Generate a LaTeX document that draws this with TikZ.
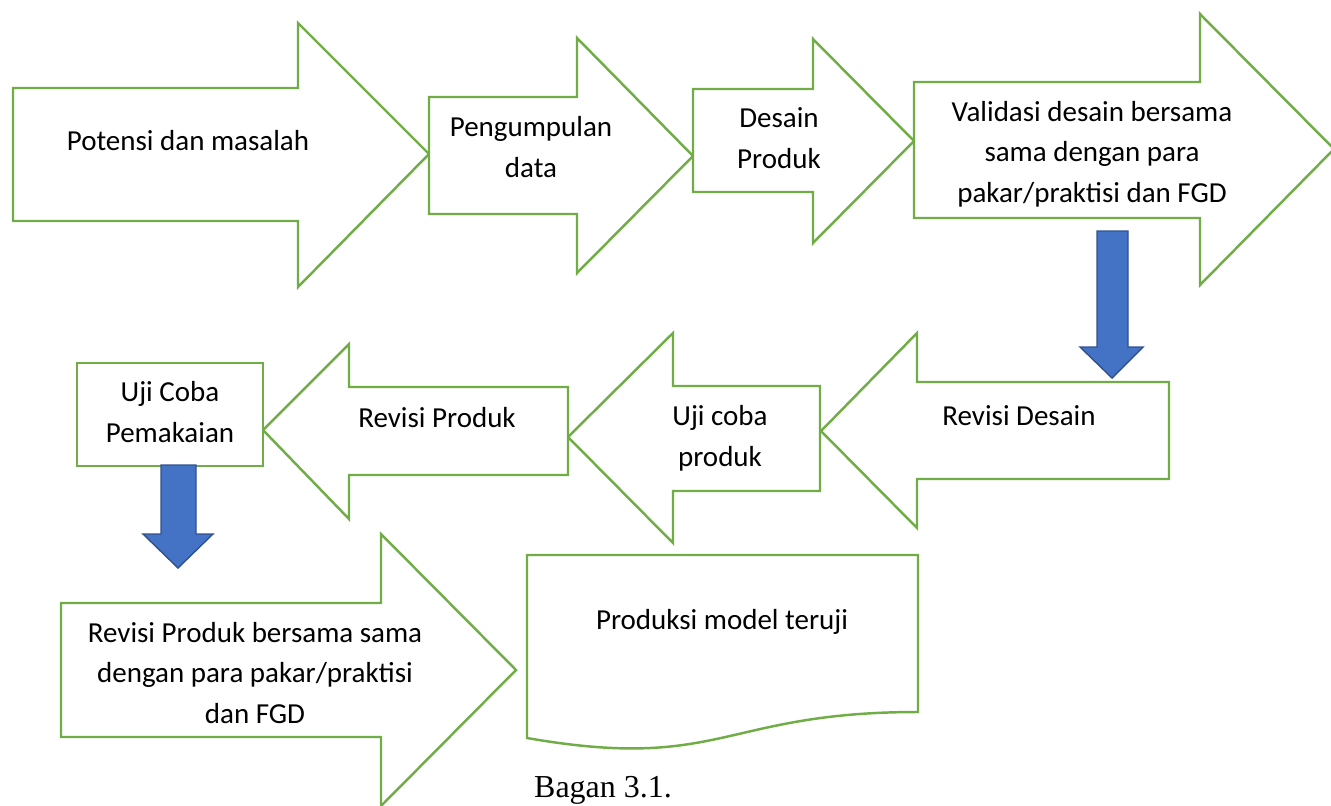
\documentclass[tikz,border=0pt]{standalone}
\usepackage{fontspec}
\setmainfont{Carlito}
\newfontfamily\captionfont{Liberation Serif}
\usepackage{xcolor}
\definecolor{office-green}{HTML}{70AD47}
\definecolor{office-blue}{HTML}{4472C4}
\definecolor{office-blue-dark}{HTML}{2F528F}
\tikzset{
    green-arrow/.style = {draw=office-green, fill=white, line width=1.4pt, line join=miter},
    blue-arrow/.style = {draw=office-blue-dark, fill=office-blue, line width=0.8pt},
    step-text/.style = {align=center, anchor=base, inner sep=0pt, font=\fontsize{16.5}{22.8}\selectfont},
}

\begin{document}
\begin{tikzpicture}[x=0.02cm, y=-0.02cm]
\useasboundingbox (0,0) rectangle (1331,805);

% baris pertama
\draw[green-arrow] (13,88) -- (298,88) -- (298,23) -- (429,154) -- (298,287) -- (298,221) -- (13,221) -- cycle;
\draw[green-arrow] (429,97) -- (577,97) -- (577,38) -- (693,156) -- (577,273) -- (577,214) -- (429,214) -- cycle;
\draw[green-arrow] (693,89) -- (813,89) -- (813,39) -- (914,141) -- (813,243) -- (813,192) -- (693,192) -- cycle;
\draw[green-arrow] (914,82) -- (1200,82) -- (1200,14) -- (1334,149) -- (1200,285) -- (1200,218) -- (914,218) -- cycle;

% baris kedua
\draw[green-arrow] (1169,382) -- (917,382) -- (917,333) -- (821,431) -- (917,528) -- (917,479) -- (1169,479) -- cycle;
\draw[green-arrow] (820,386) -- (673,386) -- (673,333) -- (568,437) -- (673,543) -- (673,491) -- (820,491) -- cycle;
\draw[green-arrow] (568,387) -- (349,387) -- (349,344) -- (263,430) -- (349,519) -- (349,475) -- (568,475) -- cycle;
\draw[green-arrow] (77,363) rectangle (263,466);

% baris ketiga
\draw[green-arrow] (61,603) -- (381,603) -- (381,534) -- (516,670) -- (381,806) -- (381,737) -- (61,737) -- cycle;
\draw[green-arrow] (527,555) -- (918,555) -- (918,712) .. controls (722,712) and (722,772) .. (527,738) -- cycle;

% panah biru
\draw[blue-arrow] (1097,231) -- (1128,231) -- (1128,347) -- (1143,347) -- (1112,378) -- (1080,347) -- (1097,347) -- cycle;
\draw[blue-arrow] (161,465) -- (196,465) -- (196,534) -- (213,534) -- (178,568) -- (143,534) -- (161,534) -- cycle;

% teks (base = garis dasar baris terakhir)
\node[step-text] (potensi) at (188,150) {Potensi dan masalah};
\node[step-text] (pengumpulan) at (531,177) {Pengumpulan\\data};
\node[step-text] (desain) at (779,168) {Desain\\Produk};
\node[step-text] (validasi) at (1092,202) {Validasi desain bersama\\sama dengan para\\pakar/praktisi dan FGD};
\node[step-text] (revdesain) at (1019,425) {Revisi Desain};
\node[step-text] (ujiproduk) at (720,466) {Uji coba\\produk};
\node[step-text] (revproduk) at (437,427) {Revisi Produk};
\node[step-text] (ujipakai) at (170,442) {Uji Coba\\Pemakaian};
\node[step-text] (revbersama) at (255,723) {Revisi Produk bersama sama\\dengan para pakar/praktisi\\dan FGD};
\node[step-text] (produksi) at (722,629) {Produksi model teruji};
\node[anchor=base, inner sep=0pt, font=\captionfont\fontsize{18.2}{22}\selectfont] (bagan) at (603,797) {Bagan 3.1.};
\end{tikzpicture}
\end{document}
